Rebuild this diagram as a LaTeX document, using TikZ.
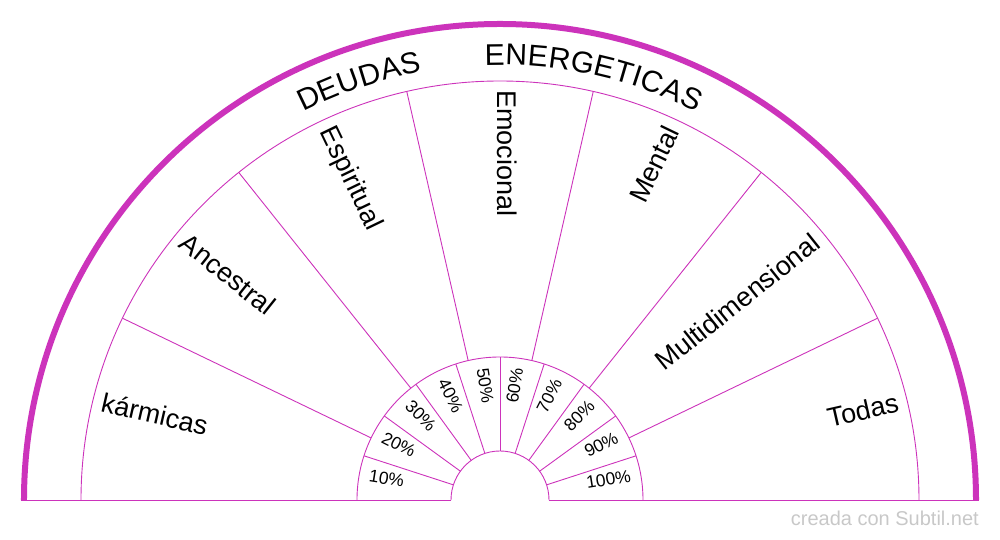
\documentclass[tikz,border=0pt]{standalone}
\usepackage{fontspec}
\setmainfont{Liberation Sans}
\usetikzlibrary{decorations.text}
\definecolor{mag}{HTML}{CC33BB}
\definecolor{wm}{HTML}{C8C8C8}
\newcommand{\titlefont}{\fontsize{30}{34}\selectfont}
\begin{document}
\begin{tikzpicture}[x=1pt,y=1pt,
  thinline/.style={draw=mag,line width=0.9pt},
  thickline/.style={draw=mag,line width=6pt},
  biglabel/.style={font=\fontsize{27}{32}\selectfont,inner sep=0pt},
  pctlabel/.style={font=\fontsize{17.5}{20}\selectfont,inner sep=0pt},
  titletext/.style={decorate,decoration={text along path,text={|\titlefont|#1},text align={fit to path}}}]
\useasboundingbox (-500,-40) rectangle (500,500);
% outer thick arc
\draw[thickline] (476pt,0pt) arc[start angle=0,end angle=180,radius=476pt];
% thin arcs
\draw[thinline] (419pt,0pt) arc[start angle=0,end angle=180,radius=419pt];
\draw[thinline] (143pt,0pt) arc[start angle=0,end angle=180,radius=143pt];
\draw[thinline] (49pt,0pt) arc[start angle=0,end angle=180,radius=49pt];
% baseline
\coordinate (bl1) at (-479pt,0pt);
\coordinate (bl2) at (-49pt,0pt);
\coordinate (br1) at (49pt,0pt);
\coordinate (br2) at (479pt,0pt);
\draw[thinline] (bl1) -- (bl2);
\draw[thinline] (br1) -- (br2);
% radial lines, outer ring
\foreach \k in {1,...,6}{
  \draw[thinline] ({\k*180/7}:143pt) -- ({\k*180/7}:419pt);
}
% radial lines, inner ring
\foreach \k in {1,...,9}{
  \draw[thinline] ({\k*18}:49pt) -- ({\k*18}:143pt);
}
% big labels
\foreach \t [count=\i from 0] in {kármicas,Ancestral,Espiritual,Emocional}{
  \pgfmathsetmacro\a{180-(\i+0.5)*180/7}
  \node[biglabel,rotate=\a-180,anchor=mid west] (L\i) at (\a:410pt) {\t};
}
\foreach \t [count=\i from 4] in {Mental,Multidimensional,Todas}{
  \pgfmathsetmacro\a{180-(\i+0.5)*180/7}
  \node[biglabel,rotate=\a,anchor=mid east] (L\i) at (\a:410pt) {\t};
}
% percentages
\foreach \i in {0,...,4}{
  \pgfmathsetmacro\a{171-18*\i}
  \pgfmathtruncatemacro\p{10*(\i+1)}
  \node[pctlabel,rotate=\a-180,anchor=mid west] (P\i) at (\a:133pt) {\p\%};
}
\foreach \i in {5,...,9}{
  \pgfmathsetmacro\a{171-18*\i}
  \pgfmathtruncatemacro\p{10*(\i+1)}
  \node[pctlabel,rotate=\a,anchor=mid east] (P\i) at (\a:133pt) {\p\%};
}
% title along arc
\path[titletext={DEUDAS}] (116.9:435pt) arc[start angle=116.9,end angle=100.3,radius=435pt];
\path[titletext={ENERGETICAS}] (92:435pt) arc[start angle=92,end angle=63.2,radius=435pt];
% watermark
\node[font=\fontsize{20}{24}\selectfont,text=wm,anchor=base east,inner sep=0pt] (wm) at (479pt,-26pt) {creada con Subtil.net};
\end{tikzpicture}
\end{document}
